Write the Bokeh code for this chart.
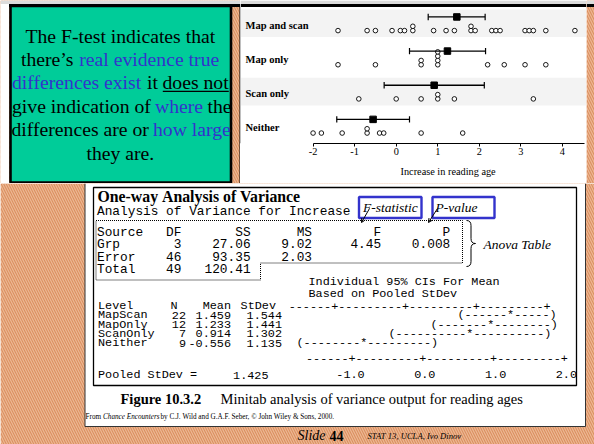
from collections import Counter
from bokeh.plotting import figure
from bokeh.models import Range1d, FixedTicker, Arrow, OpenHead, Title
from bokeh.layouts import row, column
from bokeh.embed import file_html
from bokeh.resources import INLINE
from bokeh.core.properties import value

# ---------------- data ----------------
groups = ["Map and scan", "Map only", "Scan only", "Neither"]
map_and_scan = [-1.4, -0.7, -0.5, -0.1, 0.1, 0.2, 0.4, 0.4, 0.9, 1.2, 1.4,
                1.8, 1.8, 1.9, 2.3, 2.4, 2.5, 3.1, 3.2, 3.3, 3.6, 4.3]
map_only = [-1.4, -0.5, 0.6, 0.6, 1.0, 1.0, 1.0, 1.0, 2.2, 2.6, 3.1, 3.6]
scan_only = [-0.9, 0.0, 0.6, 1.0, 1.0, 1.4, 3.3]
neither = [-2.0, -1.8, -1.3, -0.7, -0.7, -0.4, -0.3, 0.6, 1.6]
group_means = [1.459, 1.233, 0.914, -0.556]
ci_low = [0.77, 0.32, -0.29, -1.43]
ci_high = [2.14, 2.15, 2.12, 0.32]
x_ticks = [-2, -1, 0, 1, 2, 3, 4]

anova_source = ["Grp", "Error", "Total"]
anova_df = ["3", "46", "49"]
anova_ss = ["27.06", "93.35", "120.41"]
anova_ms = ["9.02", "2.03", ""]
anova_f = ["4.45", "", ""]
anova_p = ["0.008", "", ""]
levels = ["MapScan", "MapOnly", "ScanOnly", "Neither"]
level_n = ["22", "12", "7", "9"]
level_mean = ["1.459", "1.233", "0.914", "-0.556"]
level_sd = ["1.544", "1.441", "1.302", "1.135"]
ci_art = ["(------*-----)", "(-------*--------)", "(----------*----------)", "(--------*---------)"]
pooled_sd = "1.425"
scale_labels = "    -1.0       0.0       1.0       2.0"
scale_rule = "------+---------+---------+---------+"

# ---------------- styles ----------------
SERIF = value("Liberation Serif")
MONO = value("Liberation Mono")
ORANGE = "#DA8E60"
HATCH = "#EDB994"
GREEN = "#00CC99"
BLUE = "#3333CC"
NB = "\u00a0"


def hatch_quad(f, l, r, t, btm):
    f.quad(left=l, right=r, top=t, bottom=btm, fill_color=ORANGE,
           line_color=None, hatch_pattern="left_diagonal_line", hatch_color=HATCH,
           hatch_scale=5, hatch_weight=1.2)


def base_fig(w, h, xr, yr):
    f = figure(width=w, height=h, x_range=Range1d(*xr), y_range=Range1d(*yr),
               toolbar_location=None, output_backend="svg", min_border=0,
               x_axis_location=None, y_axis_location=None)
    f.outline_line_color = None
    f.frame_align = False
    f.background_fill_color = "white"
    f.border_fill_color = ORANGE
    hatch_quad(f, xr[0], xr[1], yr[1], yr[0])
    return f


def txt(f, x, y, s, font=SERIF, size="12px", style="normal", align="left",
        color="black"):
    f.text(x=[x], y=[y], text=[s.replace(" ", NB)], text_font=font,
           text_font_size=size, text_font_style=style, text_align=align,
           text_color=color, text_baseline="middle")


# ---------------- green text panel (page px 0..240 x 0..183) ----------------
g = base_fig(240, 183, (0, 240), (183, 0))
g.quad(left=0, right=240, top=0, bottom=3.5, fill_color="#DCDCDC", line_color=None)
g.quad(left=0, right=8.5, top=3.5, bottom=183, fill_color="white", line_color=None)
g.quad(left=8.5, right=240, top=3.5, bottom=6.5, fill_color="black", line_color=None)
g.quad(left=10, right=230.5, top=5.5, bottom=182, fill_color=GREEN,
       line_color="black", line_width=2.6)
g.segment(x0=[239.5], y0=[5], x1=[239.5], y1=[183], line_color="black", line_width=1)
green_segments = [
    (25.0, 35.2, "The F-test indicates that", "black"),
    (20.5, 58.5, "there\u2019s", "black"),
    (78.8, 58.5, "real evidence true", BLUE),
    (11.5, 81.8, "differences exist", BLUE),
    (146.5, 81.8, "it", "black"),
    (162.0, 81.8, "does not", "black"),
    (11.5, 105.2, "give indication of", "black"),
    (154.5, 105.2, "where", BLUE),
    (207.0, 105.2, "the", "black"),
    (11.0, 128.5, "differences are or", "black"),
    (152.5, 128.5, "how large", BLUE),
    (86.0, 152.5, "they are.", "black"),
]
for x, y, s, c in green_segments:
    txt(g, x, y, s, size="19.7px", color=c)
g.segment(x0=[162.3], y0=[90.8], x1=[228.3], y1=[90.8], line_color="black", line_width=1.2)

# ---------------- dot plot (page px 240..586 x 0..183) ----------------
PX = 41.56       # pixels per unit
X0PX = 395.7     # page pixel of value 0
ROW_PX = 34.15
ROW0 = 30.1


def ux(px):
    return (px - X0PX) / PX


def uy(py):
    return (py - ROW0) / ROW_PX


x_lo, x_hi = ux(240), ux(586)
d = figure(width=346, height=183, x_range=Range1d(x_lo, x_hi),
           y_range=Range1d(uy(143), uy(0)), toolbar_location=None,
           output_backend="svg", min_border_left=0, min_border_right=0,
           min_border_top=0, min_border_bottom=40, y_axis_location=None)
d.outline_line_color = None
d.frame_align = False
d.grid.visible = False
d.background_fill_color = "white"
d.border_fill_color = "white"

d.quad(left=x_lo, right=x_hi, top=uy(0), bottom=uy(3.5), fill_color="#DCDCDC", line_color=None)
d.quad(left=x_lo, right=x_hi, top=uy(3.5), bottom=uy(6.5), fill_color="black", line_color=None)
d.quad(left=x_lo, right=ux(240.5), top=uy(6.5), bottom=uy(143), fill_color="black", line_color=None)

rows = list(range(len(groups)))
for r in (0, 2):
    d.quad(left=ux(240.5), right=x_hi, top=max(r - 0.62, uy(6.5)), bottom=r + 0.19,
           fill_color="#F3F3F3", line_color=None)

STEP = 4.3 / ROW_PX
dx, dy = [], []
for gi, vals in enumerate([map_and_scan, map_only, scan_only, neither]):
    seen = Counter()
    for v in vals:
        dx.append(v)
        dy.append(gi - seen[v] * STEP)
        seen[v] += 1
d.scatter(dx, dy, marker="circle", size=4.6, fill_color="white",
          line_color="black", line_width=0.9)

ci_y = [r - 0.40 for r in rows]
cap = 3.2 / ROW_PX
d.segment(x0=ci_low, y0=ci_y, x1=ci_high, y1=ci_y, line_color="black", line_width=1.3)
d.segment(x0=ci_low, y0=[y - cap for y in ci_y], x1=ci_low, y1=[y + cap for y in ci_y],
          line_color="black", line_width=1.2)
d.segment(x0=ci_high, y0=[y - cap for y in ci_y], x1=ci_high, y1=[y + cap for y in ci_y],
          line_color="black", line_width=1.2)
d.scatter(group_means, ci_y, marker="square", size=6.5, color="black")

d.text(x=[x_lo] * len(groups), y=[r - 0.15 for r in rows], text=groups,
       x_offset=5, text_font=SERIF, text_font_size="10.5px",
       text_font_style="bold", text_baseline="middle")

ax = d.xaxis[0]
ax.bounds = (-2, ux(584))
ax.ticker = FixedTicker(ticks=x_ticks)
ax.major_label_overrides = {t: str(t) for t in x_ticks}
ax.minor_tick_line_color = None
ax.major_tick_in = 0
ax.major_tick_out = 3
ax.axis_line_color = "black"
ax.major_tick_line_color = "black"
ax.major_label_text_font = "Liberation Serif"
ax.major_label_text_font_size = "10.3px"
ax.major_label_text_color = "black"
ax.major_label_standoff = 1
d.add_layout(Title(text="Increase in reading age", align="left", offset=160,
                   text_font="Liberation Serif", text_font_size="10.3px",
                   text_font_style="normal", text_color="black", standoff=12), "below")

# right orange strip (page px 586..594 x 0..183)
s = base_fig(8, 183, (586, 594), (183, 0))
s.quad(left=586, right=594, top=0, bottom=3.5, fill_color="#DCDCDC", line_color=None)
s.quad(left=586, right=594, top=3.5, bottom=6.5, fill_color="black", line_color=None)

# ---------------- Minitab output panel (page px 0..594 x 183..444) ----------------
b = base_fig(594, 261, (0, 594), (444, 183))
b.quad(left=84.5, right=585, top=183, bottom=426, fill_color="white", line_color=None)
b.segment(x0=[84.5, 84.5, 585], y0=[183, 426, 183], x1=[84.5, 585, 585], y1=[426, 426, 426],
          line_color="#333333", line_width=1)
b.quad(left=93, right=576, top=187, bottom=385, fill_color="white",
       line_color="black", line_width=1.3)

txt(b, 97, 195.7, "One-way Analysis of Variance", size="15.8px", style="bold")

# upper block (monospace)
M1 = "12.8px"
X1 = 96.5
fmt = "{:<9}{:>2}{:>9}{:>8}{:>9}{:>9}"
txt(b, X1, 211.3, "Analysis of Variance for Increase", font=MONO, size=M1)
txt(b, X1, 232.0, fmt.format("Source", "DF", "SS", "MS", "F", "P"), font=MONO, size=M1)
for i, yy in enumerate([244.3, 256.6, 268.5]):
    line = fmt.format(anova_source[i], anova_df[i], anova_ss[i], anova_ms[i],
                      anova_f[i], anova_p[i]).rstrip()
    txt(b, X1, yy, line, font=MONO, size=M1)

# dotted outline of the anova table
b.line(x=[95.5, 462, 462, 260, 260, 95.5, 95.5], y=[220, 220, 262.5, 262.5, 279.5, 279.5, 220],
       line_color="black", line_width=1, line_dash="1 1")

# F-statistic / P-value callouts
b.quad(left=[358.5, 432], right=[421, 494], top=[196.5, 196.5], bottom=[217.5, 217.5],
       fill_color="white", line_color=BLUE, line_width=2.4)
txt(b, 362.5, 207, "F-statistic", size="13.5px", style="italic")
txt(b, 435, 207, "P-value", size="13.5px", style="italic")
for xs, ys, xe, ye in [(369, 208, 361, 222), (437, 208, 428, 222)]:
    b.add_layout(Arrow(end=OpenHead(size=4, line_width=1), x_start=xs, y_start=ys,
                       x_end=xe, y_end=ye, line_width=1, line_color="black"))

# brace + Anova Table
xl, xm, xt, y0, ym, y1 = 466, 470.5, 475, 220, 243, 266
b.quadratic(x0=[xl, xm, xt, xm], y0=[y0, ym - 5, ym, y1 - 5],
            x1=[xm, xt, xm, xl], y1=[y0 + 5, ym, ym + 5, y1],
            cx=[xm, xm, xm, xm], cy=[y0, ym, ym, y1], line_color="black", line_width=1)
b.segment(x0=[xm, xm], y0=[y0 + 5, ym + 5], x1=[xm, xm], y1=[ym - 5, y1 - 5],
          line_color="black", line_width=1)
txt(b, 483, 244, "Anova Table", size="13.5px", style="italic")

# lower block (monospace)
M2 = "11.8px"
txt(b, 308, 281.5, "Individual 95% CIs For Mean", font=MONO, size=M2)
txt(b, 308, 293.5, "Based on Pooled StDev", font=MONO, size=M2)
txt(b, 97.5, 305.5, "Level", font=MONO, size=M2)
txt(b, 177, 305.5, "N", font=MONO, size=M2, align="right")
txt(b, 230.5, 305.5, "Mean", font=MONO, size=M2, align="right")
txt(b, 275.5, 305.5, "StDev", font=MONO, size=M2, align="right")
txt(b, 288.2, 305.5, scale_rule, font=MONO, size=M2)
ci_start = [457, 430, 388, 296]
for i, yy in enumerate([314.8, 324.2, 333.4, 342.6]):
    txt(b, 97.5, yy, levels[i], font=MONO, size=M2)
    txt(b, 185.5, yy, level_n[i], font=MONO, size=M2, align="right")
    txt(b, 230.5, yy, level_mean[i], font=MONO, size=M2, align="right")
    txt(b, 281.5, yy, level_sd[i], font=MONO, size=M2, align="right")
    txt(b, ci_start[i], yy, ci_art[i], font=MONO, size=M2)
txt(b, 305.5, 357.5, scale_rule, font=MONO, size=M2)
txt(b, 97.5, 374.5, "Pooled StDev =", font=MONO, size=M2)
txt(b, 268, 374.5, pooled_sd, font=MONO, size=M2, align="right")
txt(b, 307.5, 374.5, scale_labels, font=MONO, size=M2)

# caption and credits
txt(b, 120, 398.3, "Figure 10.3.2", size="14.5px", style="bold")
txt(b, 220, 398.3, "Minitab analysis of variance output for reading ages", size="14.5px")
txt(b, 85, 416.7, "From", size="7.2px")
txt(b, 102.5, 416.7, "Chance Encounters", size="7.2px", style="italic")
txt(b, 160, 416.7, "by C.J. Wild and G.A.F. Seber, \u00a9 John Wiley & Sons, 2000.", size="7.2px")

txt(b, 297, 435, "Slide", size="14px", style="italic")
txt(b, 329, 435, "44", size="14px", style="bold")
txt(b, 367, 435, "STAT 13, UCLA, Ivo Dinov", size="8.6px", style="italic")

layout = column(row(g, d, s, spacing=0), b, spacing=0)
open("out.html", "w").write(file_html(layout, INLINE))
